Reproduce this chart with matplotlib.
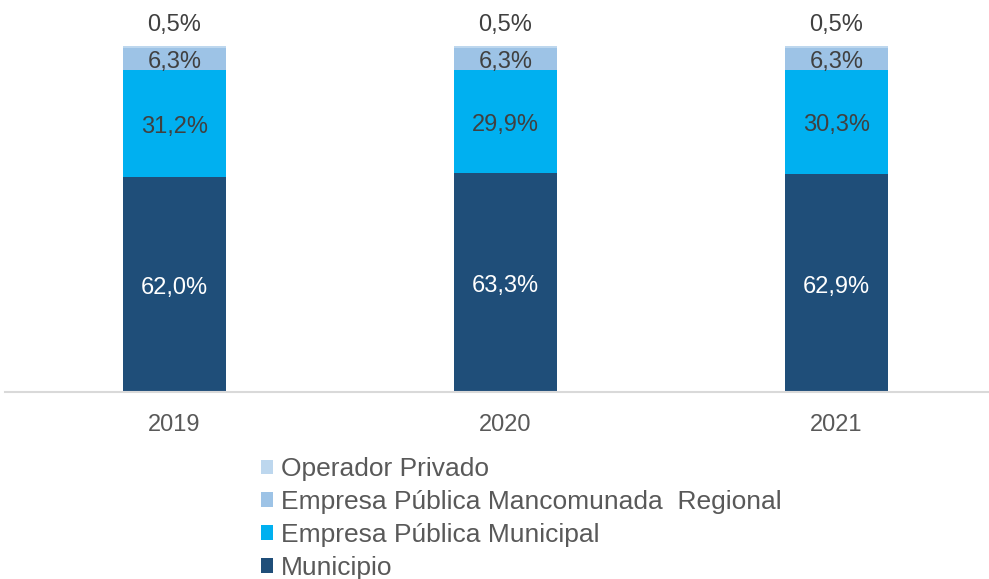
import matplotlib
matplotlib.use("Agg")
import matplotlib.pyplot as plt
import numpy as np

plt.rcParams['font.family'] = ['Liberation Sans', 'DejaVu Sans']

years = ["2019", "2020", "2021"]
municipio = [62.0, 63.3, 62.9]
ep_municipal = [31.2, 29.9, 30.3]
ep_mancomunada = [6.3, 6.3, 6.3]
operador_privado = [0.5, 0.5, 0.5]

series = [
    ("Municipio", municipio, "#1F4E79", "white"),
    ("Empresa Pública Municipal", ep_municipal, "#00B0F0", "#404040"),
    ("Empresa Pública Mancomunada  Regional", ep_mancomunada, "#9DC3E6", "#404040"),
    ("Operador Privado", operador_privado, "#BDD7EE", "#404040"),
]

W, H = 989, 579
fig = plt.figure(figsize=(W / 100, H / 100), dpi=100)
left_px, right_px = 5, 989
top_px, base_px = 10, 392
ax = fig.add_axes([left_px / W, (H - base_px) / H, (right_px - left_px) / W, (base_px - top_px) / H])

x = np.arange(len(years))
px_per_unit = 331.0
ax.set_xlim(-(174.5 - left_px) / px_per_unit, 2 + (right_px - 836.5) / px_per_unit)
px_per_pct = 346 / 100.0
ax.set_ylim(0, (base_px - top_px) / px_per_pct)

lab_fs = 17
shift = -3.5 / px_per_pct
bottom = np.zeros(len(years))
handles = []
for name, vals, color, tcolor in series:
    vals = np.array(vals)
    b = ax.bar(x, vals, 0.311, bottom=bottom, color=color, label=name, linewidth=0)
    handles.append(b)
    for xi, v, bt in zip(x, vals, bottom):
        lab = f"{v:.1f}%".replace(".", ",")
        if v < 2:
            ax.text(xi, bt + v + 25 / px_per_pct + shift, lab, ha="center", va="center",
                    color="#404040", fontsize=lab_fs)
        else:
            ax.text(xi, bt + v / 2 + shift, lab, ha="center", va="center", color=tcolor,
                    fontsize=lab_fs)
    bottom = bottom + vals

for s in ["top", "right", "left"]:
    ax.spines[s].set_visible(False)
ax.spines["bottom"].set_color("#D9D9D9")
ax.spines["bottom"].set_linewidth(1.5)
ax.set_yticks([])
ax.set_xticks(x)
ax.set_xticklabels(years, fontsize=17, color="#595959")
ax.tick_params(axis="x", length=0, pad=16)

leg = fig.legend(handles[::-1], [s[0] for s in series][::-1],
                 loc="upper left", bbox_to_anchor=(261 / W, 1 - 457 / H),
                 frameon=False, fontsize=19, handlelength=0.45, handleheight=0.45,
                 handletextpad=0.3, labelspacing=0.34, borderaxespad=0, borderpad=0)
for t in leg.get_texts():
    t.set_color("#595959")

fig.savefig("out.png", dpi=100)
